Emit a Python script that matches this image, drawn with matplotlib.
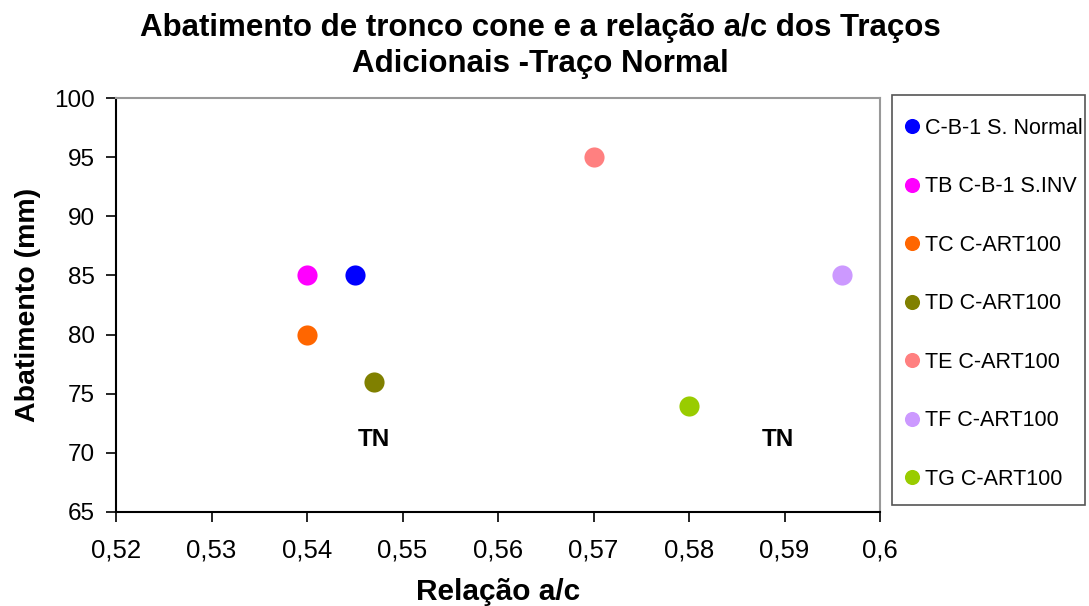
import matplotlib.pyplot as plt
from matplotlib.patches import Rectangle
from matplotlib.ticker import FuncFormatter

plt.rcParams['font.family'] = ['Liberation Sans', 'DejaVu Sans']

# --- data ---
labels = ["C-B-1 S. Normal", "TB C-B-1 S.INV", "TC C-ART100", "TD C-ART100",
          "TE C-ART100", "TF C-ART100", "TG C-ART100"]
ac_ratio = [0.545, 0.540, 0.540, 0.547, 0.570, 0.596, 0.580]
slump = [85, 85, 80, 76, 95, 85, 74]
colors = ["#0000ff", "#ff00ff", "#ff6600", "#808000", "#ff8080", "#cc99ff", "#99cc00"]

tn_x = [0.547, 0.5893]
tn_y = [71.1, 71.1]

W, H = 1089, 606
fig = plt.figure(figsize=(W / 100, H / 100), dpi=100)
ax = fig.add_axes([116 / W, 1 - 512 / H, 764 / W, 414 / H])

for x, y, c, lab in zip(ac_ratio, slump, colors, labels):
    ax.plot([x], [y], 'o', color=c, markersize=14.5, markeredgewidth=0, label=lab)

for x, y in zip(tn_x, tn_y):
    ax.text(x, y, "TN", fontsize=17.5, fontweight='bold', ha='center', va='center')

ax.set_xlim(0.52, 0.6)
ax.set_ylim(65, 100)
ax.set_xticks([0.52 + 0.01 * i for i in range(9)])
ax.set_yticks(range(65, 101, 5))
ax.xaxis.set_major_formatter(FuncFormatter(lambda v, p: f"{v:.2f}".rstrip('0').replace('.', ',')))
ax.tick_params(labelsize=17.5, direction='out', length=7, width=1.2)
ax.tick_params(axis='x', pad=12, labelsize=18.5)
ax.tick_params(axis='y', pad=8)

ax.spines['top'].set_color('#999999')
ax.spines['right'].set_color('#999999')
for s in ax.spines.values():
    s.set_linewidth(1.5)

ax.set_xlabel("Relação a/c", fontsize=21.5, fontweight='bold', labelpad=11)
ax.set_ylabel("Abatimento (mm)", fontsize=20.5, fontweight='bold', labelpad=10)

fig.text(540 / W, 1 - 46 / H,
         "Abatimento de tronco cone e a relação a/c dos Traços\nAdicionais -Traço Normal",
         fontsize=22.5, fontweight='bold', ha='center', va='center', linespacing=1.3)

# legend frame drawn separately, entries placed inside it
fig.patches.append(Rectangle((892 / W, 1 - 505 / H), 193 / W, 410 / H,
                             transform=fig.transFigure, fill=False,
                             edgecolor='#555555', linewidth=1.2))
fig.legend(loc='upper left', bbox_to_anchor=(904.5 / W, 1 - 118 / H),
           bbox_transform=fig.transFigure, fontsize=15.5, frameon=False,
           handlelength=0.7, handletextpad=0.25, labelspacing=1.74,
           borderpad=0, markerscale=0.75, borderaxespad=0)

fig.savefig("out.png", dpi=100)
